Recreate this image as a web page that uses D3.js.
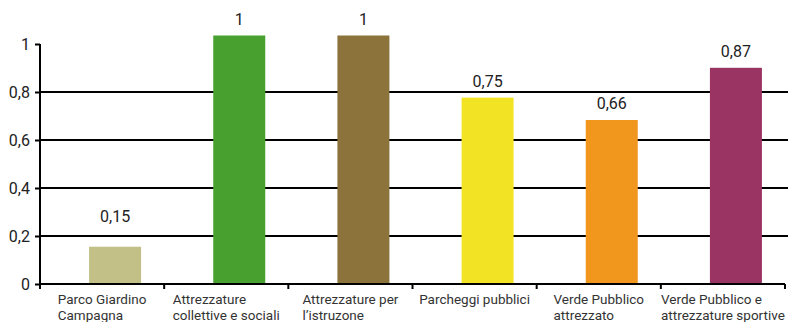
<!DOCTYPE html>
<html>
<head>
<meta charset="utf-8">
<script src="https://cdn.jsdelivr.net/npm/d3@7.9.0/dist/d3.min.js"></script>
<style>
  body { margin: 0; background: #fff; }
  svg { display: block; font-family: Roboto, "DejaVu Sans", sans-serif; }
</style>
</head>
<body>
<div id="chart"></div>
<script>
// categories (line-broken labels) and values
const categories = [
  ['Parco Giardino', 'Campagna'],
  ['Attrezzature', 'collettive e sociali'],
  ['Attrezzature per', 'l\u2019istruzone'],
  ['Parcheggi pubblici'],
  ['Verde Pubblico', 'attrezzato'],
  ['Verde Pubblico e', 'attrezzature sportive']
];
const values = [0.15, 1, 1, 0.75, 0.66, 0.87];
const valueLabels = ['0,15', '1', '1', '0,75', '0,66', '0,87'];
const colors = ['#c2c086', '#48a12f', '#8c723b', '#f2e425', '#f1971e', '#9a3462'];
const yTicks = [0, 0.2, 0.4, 0.6, 0.8, 1];
const yTickLabels = ['0', '0,2', '0,4', '0,6', '0,8', '1'];

const width = 800, height = 322;
const margin = { top: 44, right: 15, bottom: 38, left: 40 };

const svg = d3.select('#chart')
  .append('svg')
  .attr('width', width)
  .attr('height', height);

const x = d3.scaleBand()
  .domain(d3.range(categories.length))
  .range([margin.left, 785])
  .paddingInner(0)
  .paddingOuter(0);

const yScale = d3.scaleLinear()
  .domain([0, 1])
  .range([height - margin.bottom, margin.top]);

// bars in the original are drawn a little taller than the axis
const barY = d3.scaleLinear()
  .domain([0, 1])
  .range([height - margin.bottom, 35.5]);

// gridlines
svg.append('g')
  .selectAll('line')
  .data(yTicks.filter(d => d > 0 && d < 1))
  .join('line')
  .attr('x1', margin.left)
  .attr('x2', 788)
  .attr('y1', d => yScale(d))
  .attr('y2', d => yScale(d))
  .attr('stroke', '#000')
  .attr('stroke-width', 2);

// bars
const barW = 52;
const barOffset = 13;
svg.append('g')
  .selectAll('rect')
  .data(values)
  .join('rect')
  .attr('x', (d, i) => x(i) + x.bandwidth() / 2 + barOffset - barW / 2)
  .attr('y', d => barY(d))
  .attr('width', barW)
  .attr('height', d => barY(0) - barY(d))
  .attr('fill', (d, i) => colors[i]);

// value labels (the short bar's label sits higher, above the 0,2 gridline)
svg.append('g')
  .selectAll('text')
  .data(values)
  .join('text')
  .attr('x', (d, i) => x(i) + x.bandwidth() / 2 + barOffset)
  .attr('y', d => Math.min(barY(d) - 11, yScale(0.2) - 14))
  .attr('text-anchor', 'middle')
  .attr('font-size', 16)
  .attr('fill', '#222')
  .text((d, i) => valueLabels[i]);

// y axis
const yAxis = d3.axisLeft(yScale)
  .tickValues(yTicks)
  .tickSize(5)
  .tickPadding(5)
  .tickFormat((d, i) => yTickLabels[i]);

const gy = svg.append('g')
  .attr('transform', `translate(${margin.left},0)`)
  .call(yAxis);
gy.select('.domain')
  .attr('d', `M0,${yScale(1)}V${yScale(0) + 5}`)
  .attr('stroke-width', 2);
gy.selectAll('.tick line').attr('stroke-width', 2);
gy.selectAll('.tick text')
  .attr('font-size', 16)
  .attr('font-family', 'Roboto, sans-serif')
  .attr('fill', '#222');

// x axis
const xAxisG = svg.append('g')
  .attr('transform', `translate(0,${yScale(0)})`);
xAxisG.append('line')
  .attr('x1', margin.left)
  .attr('x2', 785)
  .attr('stroke', '#000')
  .attr('stroke-width', 2);
xAxisG.selectAll('.xtick')
  .data(d3.range(categories.length + 1))
  .join('line')
  .attr('class', 'xtick')
  .attr('x1', i => i < categories.length ? x(i) : x.range()[1])
  .attr('x2', i => i < categories.length ? x(i) : x.range()[1])
  .attr('y1', 0)
  .attr('y2', 5)
  .attr('stroke', '#000')
  .attr('stroke-width', 2);

// category labels: left aligned lines, block centered on band
const labels = svg.append('g')
  .selectAll('text')
  .data(categories)
  .join('text')
  .attr('font-size', 13.5)
  .attr('fill', '#333');

labels.each(function (lines, i) {
  const t = d3.select(this);
  const spans = lines.map((line, j) => t.append('tspan')
    .attr('x', 0)
    .attr('y', yScale(0) + 20 + j * 16)
    .text(line));
  const w = d3.max(spans, s => s.node().getComputedTextLength());
  t.selectAll('tspan').attr('x', x(i) + x.bandwidth() / 2 - w / 2);
});
</script>
</body>
</html>
